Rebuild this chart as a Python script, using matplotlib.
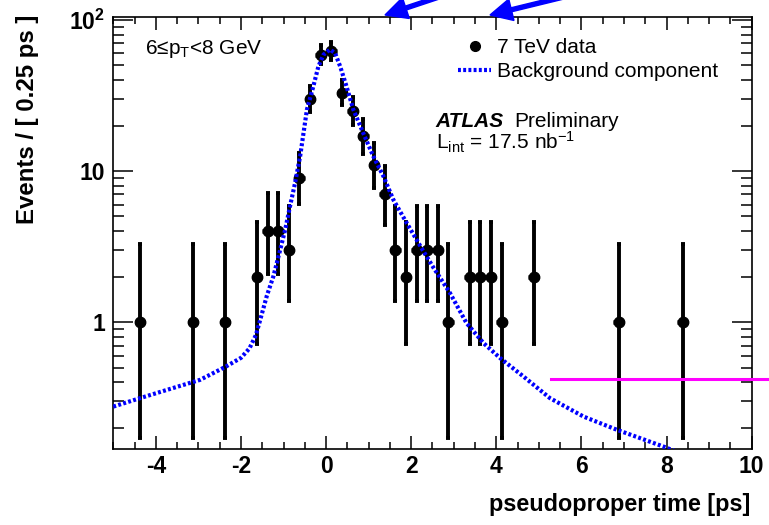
import numpy as np
import matplotlib
matplotlib.use("Agg")
import matplotlib.pyplot as plt
from matplotlib.lines import Line2D
from matplotlib.patches import FancyArrow
from matplotlib.transforms import IdentityTransform
from matplotlib.ticker import MultipleLocator, LogLocator, FixedLocator, FixedFormatter, NullFormatter

plt.rcParams['font.family'] = ['Liberation Sans', 'DejaVu Sans']
plt.rcParams['mathtext.fontset'] = 'custom'
plt.rcParams['mathtext.rm'] = 'Liberation Sans'
plt.rcParams['mathtext.it'] = 'Liberation Sans:italic'
plt.rcParams['mathtext.bf'] = 'Liberation Sans:bold'
plt.rcParams['mathtext.default'] = 'regular'
plt.rcParams['axes.unicode_minus'] = False

# data: 0.25 ps bins
t_data = [-4.375, -3.125, -2.375, -1.625, -1.375, -1.125, -0.875, -0.625, -0.375,
          -0.125, 0.125, 0.375, 0.625, 0.875, 1.125, 1.375, 1.625, 1.875, 2.125,
          2.375, 2.625, 2.875, 3.375, 3.625, 3.875, 4.125, 4.875, 6.875, 8.375]
n_data = [1, 1, 1, 2, 4, 4, 3, 9, 30, 59, 62, 33, 25, 17, 11, 7, 3, 2, 3,
          3, 3, 1, 2, 2, 2, 1, 2, 1, 1]
bin_half = 0.125

# background component curve
t_bkg = [-5.0, -4.37, -3.74, -2.96, -2.37, -2.0, -1.8, -1.65, -1.55, -1.39, -1.24, -1.08,
         -0.96, -0.85, -0.73, -0.61, -0.45, -0.30, -0.18, -0.06, 0.09, 0.21, 0.33,
         0.48, 0.64, 0.87, 1.11, 1.35, 1.58, 1.90, 2.21, 2.52, 2.91, 3.30, 3.70,
         4.09, 4.64, 5.26, 6.05, 6.83, 7.93, 8.2]
y_bkg = [0.276, 0.314, 0.356, 0.415, 0.505, 0.58, 0.67, 0.82, 1.03, 1.5, 2.0, 3.0,
         4.1, 5.8, 8.3, 12.5, 25.5, 36.3, 49.3, 58.9, 63.6, 60.4, 49.3,
         36.3, 25.5, 17.9, 12.5, 9.2, 6.46, 4.5, 3.2, 2.3, 1.56, 0.985, 0.726,
         0.578, 0.436, 0.314, 0.237, 0.194, 0.150, 0.14]

# magenta reference line
ref_level = 0.42
ref_t = [5.28, 10.6]


def poisson_band(n):
    # 68% Garwood interval, Wilson-Hilferty approx of chi2 quantiles
    n = np.asarray(n, float)

    def chi2q(k, z):
        a = 2.0 / (9.0 * k)
        return k * (1 - a + z * np.sqrt(a)) ** 3

    lo = chi2q(2 * n, -1.0) / 2
    hi = chi2q(2 * n + 2, 1.0) / 2
    return n - lo, hi - n


fig = plt.figure(figsize=(7.69, 5.25), dpi=100)
ax = fig.add_axes([0.1473, 0.1442, 0.8302, 0.8228])

err_lo, err_hi = poisson_band(n_data)
ax.errorbar(t_data, n_data, yerr=[err_lo, err_hi], fmt='none', ecolor='black',
            elinewidth=2.8, capsize=1.6, capthick=2.8, zorder=3)
ax.errorbar(t_data, n_data, xerr=bin_half, fmt='o', color='black', ms=7.5,
            elinewidth=3.4, capsize=0, zorder=4)
ax.plot(t_bkg, y_bkg, color='#0000ff', lw=3.0, linestyle=(0, (0.7, 0.55)),
        dash_capstyle='butt', zorder=5)
ax.plot(ref_t, [ref_level, ref_level], color='#ff00ff', lw=2.2, clip_on=False, zorder=6)

ax.set_xlim(-5, 10)
ax.set_yscale('log')
ax.set_ylim(0.144, 104)

ax.xaxis.set_major_locator(MultipleLocator(2))
ax.xaxis.set_minor_locator(MultipleLocator(0.5))
ax.yaxis.set_major_locator(FixedLocator([1, 10, 100]))
ax.yaxis.set_major_formatter(FixedFormatter(['1', '10', r'$\mathbf{10}^{\mathbf{2}}$']))
ax.yaxis.set_minor_locator(LogLocator(base=10, subs=np.arange(2, 10)))
ax.yaxis.set_minor_formatter(NullFormatter())

ax.tick_params(which='both', direction='in', top=True, right=True, width=1.1,
               labelsize=16.5, colors='black')
ax.tick_params(axis='x', which='major', length=9.4, pad=4)
ax.tick_params(axis='x', which='minor', length=5)
ax.tick_params(axis='y', which='major', length=14.4, pad=6)
ax.tick_params(axis='y', which='minor', length=8)
for lab in ax.get_xticklabels() + ax.get_yticklabels():
    lab.set_fontweight('bold')
for sp in ax.spines.values():
    sp.set_linewidth(1.2)

fig.text(750 / 769, (525 - 511) / 525, 'pseudoproper time [ps]', ha='right',
         va='baseline', fontsize=16.8, fontweight='bold')
fig.text(28 / 769, (525 - 15) / 525, 'Events / [ 0.25 ps ]', ha='center', va='top',
         rotation=90, fontsize=17.3, fontweight='bold')

# annotations (axes fraction)
ax.text(0.0497, 0.915, r'6≤p$_{\mathrm{T}}$<8 GeV', transform=ax.transAxes,
        fontsize=15, va='baseline')
ax.text(0.505, 0.746, 'ATLAS', transform=ax.transAxes, fontsize=15,
        fontweight='bold', fontstyle='italic', va='baseline')
ax.text(0.628, 0.746, 'Preliminary', transform=ax.transAxes, fontsize=15, va='baseline')
ax.text(0.505, 0.693, r'L$_{\mathrm{int}}$ = 17.5 nb$^{-1}$', transform=ax.transAxes,
        fontsize=15, va='baseline')

handles = [Line2D([], [], color='black', marker='o', ms=7, linestyle='none'),
           Line2D([], [], color='#0000ff', lw=3.0, linestyle=(0, (0.7, 0.55)))]
ax.legend(handles, ['7 TeV data', 'Background component'], loc='upper left',
          bbox_to_anchor=(458 / 769, (525 - 38) / 525), bbox_transform=fig.transFigure,
          frameon=False, fontsize=15, borderpad=0, borderaxespad=0,
          handlelength=1.6, handletextpad=0.25, labelspacing=0.25)

# blue arrows poking in from above the frame
for x0, y0, dx, dy in [(445, 530, -60, -20), (580, 532, -90, -22)]:
    fig.add_artist(FancyArrow(x0, y0, dx, dy, width=4, head_width=22, head_length=22,
                              length_includes_head=True, color='#0000ff',
                              transform=IdentityTransform()))

fig.savefig('out.png', dpi=100)
